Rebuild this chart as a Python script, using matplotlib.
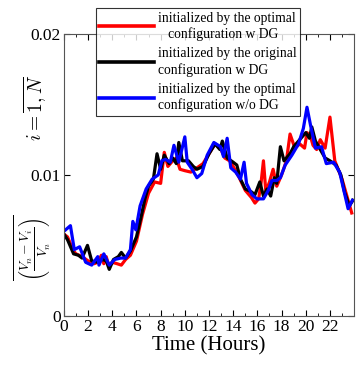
import matplotlib
matplotlib.use("Agg")
import matplotlib.pyplot as plt
from matplotlib.ticker import MultipleLocator

plt.rcParams["font.family"] = ["Liberation Serif", "DejaVu Serif"]
plt.rcParams["mathtext.fontset"] = "cm"

labels = [
    "initialized by the optimal\n   configuration w DG",
    "initialized by the original\nconfiguration w DG",
    "initialized by the optimal\nconfiguration w/o DG",
]

# red: optimal configuration w DG
t_red = [0, 0.3, 0.8, 1.0, 1.5, 2.0, 2.5, 2.8, 3.1, 3.3, 3.5, 3.7, 4.0, 4.4, 4.75, 5.1, 5.5, 6.0,
         6.5, 7.0, 7.5, 8.0, 8.3, 8.6, 9.0, 9.3, 9.6, 10.0, 10.5, 11.0, 11.5, 12.0, 12.5, 13.0,
         13.3, 13.7, 14.0, 14.5, 15.0, 15.5, 15.8, 16.1, 16.3, 16.5, 16.7, 17.0, 17.3, 17.6,
         18.0, 18.4, 18.7, 19.1, 19.5, 19.9, 20.1, 20.4, 20.6, 20.9, 21.2, 21.6, 22.0, 22.4,
         23.0, 23.4, 23.8]
v_red = [0.0058, 0.0056, 0.0046, 0.0044, 0.0042, 0.0039, 0.0037, 0.0038, 0.0043, 0.0037, 0.0042,
         0.0036, 0.0038, 0.0037, 0.0036, 0.0040, 0.0043, 0.0053, 0.0072, 0.0087, 0.0095, 0.0094,
         0.0116, 0.0106, 0.0110, 0.0112, 0.0104, 0.0103, 0.0102, 0.0105, 0.0108, 0.0115, 0.0122,
         0.0118, 0.0112, 0.0110, 0.0106, 0.0098, 0.0089, 0.0084, 0.0080, 0.0083, 0.0094, 0.0110,
         0.0088, 0.0095, 0.0104, 0.0092, 0.0100, 0.0110, 0.0129, 0.0119, 0.0122, 0.0119, 0.0130,
         0.0127, 0.0121, 0.0118, 0.0125, 0.0119, 0.0141, 0.0110, 0.0097, 0.0085, 0.0073]

# black: original configuration w DG
t_blk = [0, 0.3, 0.8, 1.2, 1.5, 1.95, 2.3, 2.8, 3.2, 3.5, 3.75, 4.1, 4.5, 4.75, 5.1, 5.5, 6.0,
         6.4, 6.7, 7.0, 7.4, 7.7, 8.0, 8.3, 8.7, 9.0, 9.3, 9.5, 9.8, 10.3, 10.7, 11.0, 11.5, 12.0,
         12.5, 12.9, 13.1, 13.5, 14.0, 14.3, 14.6, 15.0, 15.5, 15.8, 16.2, 16.5, 16.8, 17.1,
         17.4, 17.6, 17.9, 18.2, 18.7, 19.0, 19.5, 20.0, 20.3, 20.5, 20.8, 21.2, 21.6, 22.0,
         22.5, 22.9, 23.2, 23.6, 23.9]
v_blk = [0.0058, 0.0054, 0.0044, 0.0043, 0.0041, 0.0050, 0.0039, 0.0038, 0.0040, 0.0039, 0.0033,
         0.0040, 0.0042, 0.0045, 0.0041, 0.0046, 0.0056, 0.0071, 0.0083, 0.0092, 0.0097, 0.0115,
         0.0104, 0.0114, 0.0108, 0.0112, 0.0108, 0.0123, 0.0110, 0.0110, 0.0106, 0.0104, 0.0106,
         0.0115, 0.0122, 0.0118, 0.0124, 0.0112, 0.0109, 0.0107, 0.0097, 0.0090, 0.0088, 0.0086,
         0.0095, 0.0085, 0.0090, 0.0085, 0.0098, 0.0094, 0.0120, 0.0110, 0.0115, 0.0120, 0.0125,
         0.0130, 0.0126, 0.0134, 0.0124, 0.0118, 0.0112, 0.0110, 0.0107, 0.0100, 0.0088, 0.0078,
         0.0082]

# blue: optimal configuration w/o DG
t_blu = [0, 0.54, 0.86, 1.3, 1.8, 2.3, 2.8, 2.9, 3.3, 3.75, 4.2, 4.7, 5.1, 5.5, 5.7, 5.95, 6.3,
         6.8, 7.3, 7.8, 8.1, 8.4, 8.8, 9.1, 9.5, 10.0, 10.2, 10.6, 11.0, 11.4, 11.85, 12.4, 12.95,
         13.2, 13.5, 13.8, 14.2, 14.6, 14.9, 15.1, 15.55, 15.96, 16.5, 16.9, 17.2, 17.6, 17.9,
         18.3, 18.85, 19.4, 19.8, 20.1, 20.4, 20.8, 21.3, 21.7, 22.3, 22.8, 23.5, 23.85]
v_blu = [0.0060, 0.0064, 0.0047, 0.0049, 0.0038, 0.0036, 0.0042, 0.0036, 0.0044, 0.0036, 0.0040,
         0.0041, 0.0041, 0.0047, 0.0067, 0.0061, 0.0078, 0.0090, 0.0097, 0.0100, 0.0110, 0.0111,
         0.0109, 0.0121, 0.0109, 0.0127, 0.0109, 0.0104, 0.0098, 0.0101, 0.0114, 0.0123, 0.0120,
         0.0113, 0.0126, 0.0105, 0.0102, 0.0097, 0.0109, 0.0094, 0.0086, 0.0083, 0.0083, 0.0089,
         0.0096, 0.0096, 0.0098, 0.0107, 0.0114, 0.0122, 0.0133, 0.0148, 0.0135, 0.0119, 0.0120,
         0.0108, 0.0109, 0.0102, 0.0076, 0.0082]

fig = plt.figure(figsize=(3.61, 3.69), dpi=100)
ax = fig.add_axes([0.177, 0.144, 0.804, 0.764])

ax.plot(t_red, v_red, color="#ff0000", lw=2.3, label=labels[0])
ax.plot(t_blk, v_blk, color="black", lw=2.3, label=labels[1])
ax.plot(t_blu, v_blu, color="#0000ff", lw=2.3, label=labels[2])

ax.set_xlim(0, 24)
ax.set_ylim(0, 0.02)
ax.set_xticks(range(0, 24, 2))
ax.xaxis.set_minor_locator(MultipleLocator(1))
ax.set_yticks([0, 0.01, 0.02])
ax.set_yticklabels(["0", "0.01", "0.02"])
ax.tick_params(which="both", direction="in", top=True, right=True, labelsize=12.5, pad=2)
ax.tick_params(which="major", length=4)
ax.tick_params(which="minor", length=2.5)
for s in ax.spines.values():
    s.set_color("#555555")

ax.set_xlabel("Time (Hours)", fontsize=15, labelpad=1)
# y label drawn in two parts, as in the original (fraction low, index range high)
fig.text(32 / 361, 1 - 248 / 369, r"$\overline{\left(\frac{V_n-V_i}{V_n}\right)}$",
         rotation=90, ha="center", va="center", fontsize=14)
fig.text(35 / 361, 1 - 108 / 369, r"$i=\overline{1,N}$",
         rotation=90, ha="center", va="center", fontsize=14)

leg = ax.legend(loc="upper center", bbox_to_anchor=(0.548, 0.978), bbox_transform=fig.transFigure,
                fontsize=9.8, frameon=True, fancybox=False, edgecolor="black", handlelength=4.0,
                labelspacing=0.45, borderpad=0.25, handletextpad=0.3, borderaxespad=0)
leg.get_frame().set_linewidth(0.8)
for line in leg.get_lines():
    line.set_linewidth(2.6)
for txt in leg.get_texts():
    txt.set_linespacing(1.25)

fig.savefig("out.png", dpi=100)
